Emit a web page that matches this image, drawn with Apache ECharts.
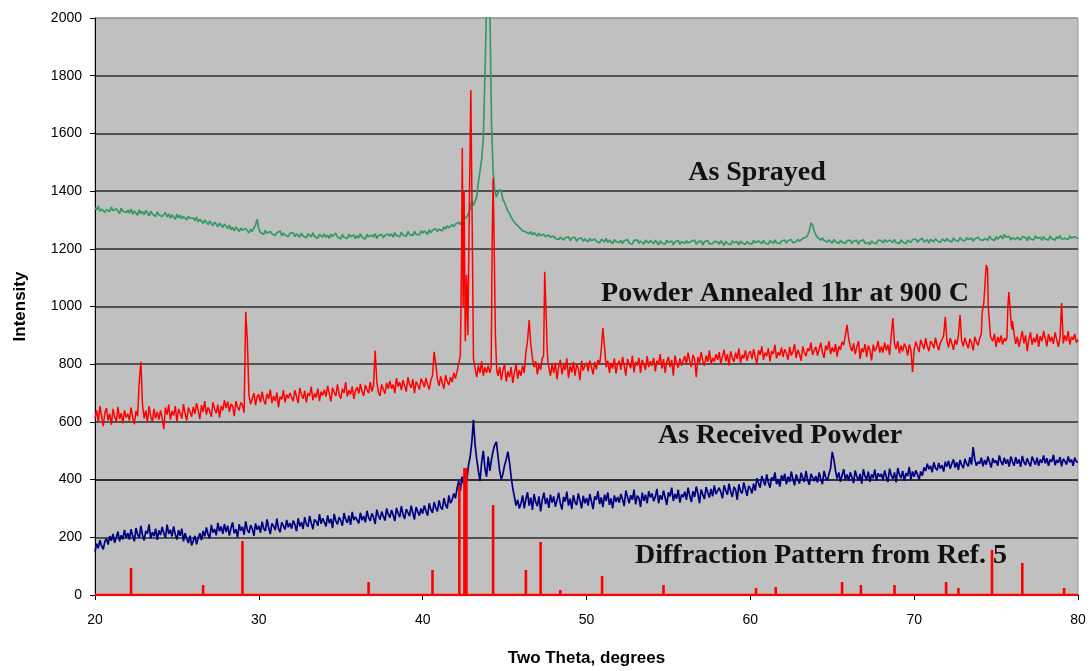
<!DOCTYPE html>
<html>
<head>
<meta charset="utf-8">
<script src="https://cdn.jsdelivr.net/npm/echarts@6/dist/echarts.min.js"></script>
<style>html,body{margin:0;padding:0;background:#fff;}#c{width:1091px;height:671px;}</style>
</head>
<body>
<div id="c"></div>
<script>
// x grid: 20.0 .. 80.0 step 0.1 (601 points)
const xStart = 20, xStep = 0.1;
const xTicks = [20, 30, 40, 50, 60, 70, 80];
const yTicks = [0, 200, 400, 600, 800, 1000, 1200, 1400, 1600, 1800, 2000];

const asSprayed = [
1342,1335,1348,1330,1338,1344,1326,1336,1340,1329,1345,1332,1327,1339,1334,1322,1341,1330,1336,1326,
1334,1324,1338,1320,1331,1327,1316,1335,1322,1329,1318,1333,1325,1314,1330,1321,1326,1312,1328,1318,
1324,1312,1319,1326,1310,1321,1306,1318,1314,1302,1320,1308,1316,1304,1312,1318,1300,1313,1306,1310,
1306,1298,1310,1294,1302,1296,1288,1300,1292,1284,1296,1290,1280,1293,1286,1276,1289,1282,1274,1286,
1278,1270,1282,1266,1274,1262,1276,1268,1260,1272,1264,1258,1270,1262,1255,1268,1260,1266,1284,1302,
1268,1256,1262,1250,1264,1254,1248,1260,1252,1258,1246,1256,1250,1262,1244,1255,1248,1252,1242,1254,
1248,1256,1242,1252,1246,1240,1254,1244,1250,1238,1252,1246,1241,1255,1243,1249,1237,1251,1245,1240,
1252,1240,1247,1236,1250,1243,1238,1254,1241,1246,1234,1249,1240,1244,1236,1251,1242,1238,1248,1235,
1246,1238,1252,1240,1244,1234,1250,1242,1237,1248,1240,1253,1236,1245,1241,1250,1238,1247,1242,1251,
1244,1252,1240,1256,1246,1250,1242,1258,1247,1253,1244,1260,1249,1255,1246,1261,1250,1256,1248,1262,
1254,1262,1258,1250,1266,1256,1264,1258,1270,1260,1268,1274,1262,1276,1268,1280,1272,1266,1284,1276,
1286,1280,1292,1284,1298,1296,1305,1312,1322,1340,1368,1350,1345,1380,1430,1470,1510,1580,1800,2050,
2300,2050,1640,1470,1400,1380,1395,1405,1398,1370,1360,1345,1330,1322,1310,1300,1294,1285,1282,1274,
1270,1262,1266,1258,1262,1252,1260,1248,1256,1250,1244,1254,1246,1240,1250,1242,1238,1248,1240,1236,
1244,1236,1242,1232,1240,1246,1230,1238,1234,1242,1228,1237,1232,1240,1226,1235,1230,1238,1226,1234,
1232,1224,1236,1228,1222,1234,1226,1230,1220,1233,1227,1224,1236,1222,1230,1226,1218,1232,1225,1228,
1222,1230,1218,1228,1224,1232,1220,1226,1216,1229,1223,1231,1219,1227,1222,1216,1230,1224,1220,1228,
1226,1218,1230,1222,1214,1228,1220,1226,1216,1230,1222,1218,1227,1214,1224,1220,1229,1216,1225,1221,
1218,1228,1220,1214,1226,1222,1230,1216,1224,1219,1227,1213,1225,1221,1229,1217,1223,1218,1226,1220,
1224,1216,1228,1220,1212,1226,1219,1224,1214,1228,1221,1217,1225,1213,1227,1220,1223,1215,1226,1219,
1225,1217,1229,1221,1215,1227,1222,1218,1230,1220,1224,1216,1228,1223,1219,1231,1221,1226,1218,1227,
1224,1230,1220,1228,1223,1232,1221,1227,1225,1233,1226,1230,1236,1232,1240,1248,1262,1290,1282,1262,
1248,1240,1236,1230,1238,1228,1233,1224,1231,1226,1220,1232,1225,1229,1218,1230,1223,1227,1219,1228,
1222,1230,1218,1226,1221,1229,1216,1227,1223,1231,1219,1225,1222,1214,1228,1221,1226,1218,1230,1224,
1228,1220,1232,1224,1218,1230,1225,1222,1233,1221,1227,1219,1231,1224,1229,1217,1230,1226,1222,1232,
1226,1234,1222,1230,1225,1236,1223,1229,1232,1220,1233,1227,1224,1235,1228,1231,1222,1234,1229,1226,
1236,1228,1233,1224,1238,1230,1235,1226,1240,1231,1234,1227,1239,1232,1229,1237,1226,1234,1231,1240,
1232,1238,1229,1236,1241,1230,1244,1235,1238,1228,1242,1233,1237,1246,1234,1250,1240,1236,1243,1231,
1238,1244,1232,1240,1235,1230,1242,1236,1239,1228,1243,1234,1238,1231,1245,1236,1233,1240,1229,1242,
1234,1240,1231,1244,1236,1238,1230,1242,1235,1246,1233,1239,1236,1241,1232,1245,1237,1234,1242,1238,
1236
];

const asReceived = [
150,178,162,190,171,158,185,196,175,204,188,212,181,199,220,186,207,193,226,198,
215,192,228,205,186,232,210,198,240,207,189,222,213,245,196,218,204,230,191,224,
208,236,214,199,244,212,226,203,238,210,192,225,205,230,186,214,195,180,206,172,
188,205,176,198,214,190,222,203,234,210,196,243,216,228,207,250,221,238,212,246,
218,240,206,232,252,214,228,200,245,223,236,209,255,226,215,242,230,205,248,226,
240,216,254,230,222,262,234,211,248,239,225,265,231,218,252,240,227,260,235,249,
230,258,244,221,266,238,252,229,270,245,236,274,250,228,262,255,240,280,247,266,
252,238,276,249,264,232,281,256,245,270,258,240,284,262,250,275,243,288,260,271,
266,248,285,259,274,252,292,268,257,283,270,246,296,275,261,289,273,258,300,280,
268,295,277,256,302,283,270,308,279,264,298,286,273,310,284,262,305,289,275,300,
282,310,291,275,318,296,285,322,302,290,328,305,296,336,312,300,345,318,330,352,
335,370,395,360,410,385,430,400,450,480,530,607,520,470,430,395,460,500,440,410,
480,430,470,500,520,531,480,430,400,420,450,470,497,460,410,370,340,310,330,300,
318,345,300,332,356,310,338,295,350,322,308,342,290,330,355,315,336,302,348,320,
342,306,328,355,318,296,340,324,358,310,334,298,346,322,312,352,328,300,344,318,
336,310,350,325,298,342,330,360,315,338,305,348,326,356,312,335,300,345,322,340,
320,350,332,308,362,340,318,346,330,365,314,344,336,305,355,326,348,318,360,338,
352,325,340,368,318,346,330,362,338,312,356,342,372,326,350,334,365,320,348,340,
358,330,372,345,322,360,340,376,352,318,366,348,332,374,355,338,368,342,380,350,
345,372,356,335,380,362,348,386,358,340,375,365,330,384,360,352,390,366,344,378,
370,352,386,362,405,388,372,412,395,380,418,390,372,408,396,425,384,402,376,415,
398,420,384,410,392,428,402,380,418,400,386,424,405,392,430,398,382,420,408,395,
412,390,425,402,384,430,408,396,420,440,496,470,430,404,425,392,415,436,400,418,
396,425,408,388,432,410,398,420,386,436,412,400,428,392,418,405,435,396,422,410,
420,398,432,410,392,438,415,402,425,390,440,418,405,430,396,422,412,444,400,428,
410,432,418,400,428,414,442,430,455,436,448,425,460,440,432,458,438,450,428,462,
445,465,438,456,470,442,460,434,468,450,440,472,455,446,478,452,513,470,448,462,
455,476,446,468,452,480,460,442,474,458,466,448,484,462,450,476,455,470,445,480,
462,448,478,455,470,444,482,460,450,474,458,446,480,465,452,476,448,470,458,484,
456,474,448,470,462,486,450,468,458,478,446,472,464,452,480,460,470,448,476,462,
460
];

// Annealed powder: grid values (null where the fine peak list below takes over)
const annealed = [
612,640,598,655,620,585,632,648,605,628,590,645,618,600,652,610,630,595,640,615,
628,605,650,615,592,638,620,740,808,660,612,640,598,655,620,600,645,612,635,608,
640,615,575,650,625,660,608,638,622,655,600,645,630,612,662,628,605,650,635,618,
652,628,665,640,610,658,635,672,625,650,638,618,668,645,630,660,615,655,640,675,
648,670,635,662,655,620,672,650,640,668,658,632,982,880,690,662,680,700,658,688,
695,668,705,675,660,698,680,712,665,690,672,702,650,688,678,710,668,695,682,700,
702,672,710,688,665,718,695,680,708,668,700,690,722,675,698,685,715,672,705,692,
712,688,725,698,670,718,702,690,730,695,680,715,700,738,688,710,695,722,680,708,
720,698,732,705,690,728,712,700,738,706,725,847,740,702,690,730,712,698,735,715,
742,715,730,700,752,722,738,710,745,725,705,755,730,718,748,700,740,728,712,750,
738,720,752,730,712,745,760,843,800,748,725,758,735,715,762,740,728,755,738,770,
750,775,780,null,null,null,null,null,null,null,null,null,785,755,795,770,810,760,790,770,
795,770,null,null,null,null,760,790,745,780,800,740,775,755,790,735,770,800,750,780,
760,795,770,840,880,953,870,820,790,810,765,800,780,820,null,null,null,790,760,800,
770,805,748,790,815,765,798,780,820,752,795,772,808,760,800,785,745,812,778,795,
805,775,812,790,765,808,782,815,798,850,925,860,790,812,770,805,785,820,768,800,
812,780,825,795,760,818,800,786,830,772,808,795,822,770,815,798,780,828,790,810,
795,822,775,812,800,835,785,818,770,808,825,790,815,760,830,802,788,820,795,812,
828,800,840,812,790,832,818,755,825,805,842,812,795,830,808,848,800,822,810,835,
815,842,800,828,850,810,835,795,845,822,808,840,818,855,805,832,820,848,812,836,
845,818,852,825,800,848,832,862,815,840,828,855,810,845,835,868,820,842,830,858,
825,852,838,815,860,830,845,870,822,850,835,812,862,840,828,855,845,875,832,848,
860,830,852,875,840,822,865,848,880,835,858,842,870,826,862,850,878,866,900,936,
890,862,845,872,835,860,880,818,855,842,870,825,865,850,812,868,845,858,880,840,
862,840,875,848,868,832,900,960,870,852,880,838,865,845,872,858,830,868,850,773,
850,878,860,842,885,868,852,890,862,845,880,872,855,892,866,848,875,885,900,964,
880,858,890,872,850,885,868,900,970,880,862,892,870,855,888,875,848,895,878,865,
890,905,null,null,null,null,null,890,880,905,860,895,875,900,868,890,880,null,null,null,
950,905,870,895,860,888,915,872,900,845,885,910,868,892,875,905,860,898,880,915,
890,862,905,878,895,870,910,885,860,890,1012,872,900,880,915,868,895,885,905,875,
885
];
const annealedPeakX = [
  42.3, 42.36, 42.42, 42.47, 42.53, 42.6, 42.68, 42.76, 42.86, 42.94, 43.02, 43.1,
  44.18, 44.24, 44.3, 44.36, 44.44, 44.52,
  47.38, 47.45, 47.52, 47.6, 47.66,
  74.15, 74.25, 74.35, 74.4, 74.48, 74.52, 74.6, 74.66,
  75.66, 75.72, 75.78, 75.85, 75.92, 75.98];
const annealedPeakY = [
  830, 1100, 1550, 1000, 1400, 880, 1110, 900, 1400, 1750, 1300, 820,
  790, 1200, 1445, 1230, 900, 780,
  830, 1120, 1000, 850, 800,
  980, 1012, 1100, 1144, 1130, 1000, 942, 895,
  890, 1000, 1050, 1000, 940, 920];

// Reference diffraction pattern (Ref. 5)
const refPos = [22.2, 26.6, 29.0, 36.7, 40.6, 42.24, 42.55, 42.67, 44.3, 46.3, 47.2, 48.4, 50.95, 54.7,
  60.35, 61.55, 65.6, 66.75, 68.8, 71.95, 72.7, 74.75, 76.6, 79.15];
const refInt = [94, 35, 187, 45, 87, 381, 440, 440, 312, 87, 184, 17, 66, 35,
  24, 28, 45, 35, 35, 45, 24, 156, 111, 24];

const labels = [
  {text: 'As Sprayed', cx: 757, cy: 173},
  {text: 'Powder Annealed 1hr at 900 C', cx: 785, cy: 294},
  {text: 'As Received Powder', cx: 780, cy: 436},
  {text: 'Diffraction Pattern from Ref. 5', cx: 821, cy: 556}
];

function gridData(arr) {
  const out = [];
  arr.forEach((v, i) => { if (v !== null) out.push([+(xStart + i * xStep).toFixed(2), v]); });
  return out;
}
const greenData = gridData(asSprayed);
const blueData = gridData(asReceived);
const redData = gridData(annealed);
annealedPeakX.forEach((x, i) => redData.push([x, annealedPeakY[i]]));
redData.sort((a, b) => a[0] - b[0]);

const refData = [[20, 0]];
refPos.forEach((x, i) => { refData.push([x, 0], [x, refInt[i]], [x, 0]); });
refData.push([80, 0]);

const splitColors = yTicks.map(v => v === 400 ? '#000' : (v === 2000 ? '#9a9a9a' : '#2e2e2e'));

const graphics = labels.map(l => ({
  type: 'text', x: l.cx, y: l.cy, z: 10,
  style: {text: l.text, fill: '#111', fontFamily: 'Liberation Serif', fontWeight: 'bold', fontSize: 28, align: 'center', verticalAlign: 'middle'}
}));
const lens = [asSprayed.length, asReceived.length, annealed.length];
if (lens.some(n => n !== 601)) {
  graphics.push({type: 'text', x: 150, y: 60, z: 20, style: {text: 'LEN ' + lens.join(','), fill: '#f0f', fontSize: 20}});
}

const chart = echarts.init(document.getElementById('c'), null, {renderer: 'canvas'});
chart.setOption({
  animation: false,
  backgroundColor: '#ffffff',
  grid: {left: 95, right: 13, top: 18, bottom: 76, containLabel: false, outerBoundsMode: 'none',
    show: true, backgroundColor: '#c0c0c0', borderColor: '#9a9a9a', borderWidth: 1},
  xAxis: {
    type: 'value', min: 20, max: 80, interval: 10,
    name: 'Two Theta, degrees', nameLocation: 'middle', nameGap: 55,
    nameTextStyle: {fontFamily: 'Liberation Sans', fontWeight: 'bold', fontSize: 17, color: '#000'},
    axisLine: {show: true, onZero: false, lineStyle: {color: '#000', width: 1}},
    axisTick: {show: true, length: 5, lineStyle: {color: '#000'}},
    axisLabel: {margin: 18, fontFamily: 'Liberation Sans', fontSize: 14, color: '#000', formatter: v => String(v)},
    splitLine: {show: false}
  },
  yAxis: {
    type: 'value', min: 0, max: 2000, interval: 200,
    name: 'Intensity', nameLocation: 'middle', nameGap: 66, nameRotate: 90,
    nameTextStyle: {fontFamily: 'Liberation Sans', fontWeight: 'bold', fontSize: 17, color: '#000'},
    axisLine: {show: true, lineStyle: {color: '#000', width: 1}},
    axisTick: {show: true, length: 5, lineStyle: {color: '#000'}},
    axisLabel: {margin: 13, fontFamily: 'Liberation Sans', fontSize: 14, color: '#000', formatter: v => String(v)},
    splitLine: {show: true, lineStyle: {color: splitColors, width: 1.6}}
  },
  series: [
    {type: 'line', data: greenData, showSymbol: false, symbol: 'none', lineStyle: {color: '#339966', width: 1.7}, z: 2},
    {type: 'line', data: blueData, showSymbol: false, symbol: 'none', lineStyle: {color: '#000080', width: 1.7}, z: 3},
    {type: 'line', data: redData, showSymbol: false, symbol: 'none', lineStyle: {color: '#ff0000', width: 1.5}, z: 4},
    {type: 'line', data: refData, showSymbol: false, symbol: 'none', lineStyle: {color: '#ff0000', width: 2.6}, z: 5}
  ],
  graphic: graphics
});
</script>
</body>
</html>
